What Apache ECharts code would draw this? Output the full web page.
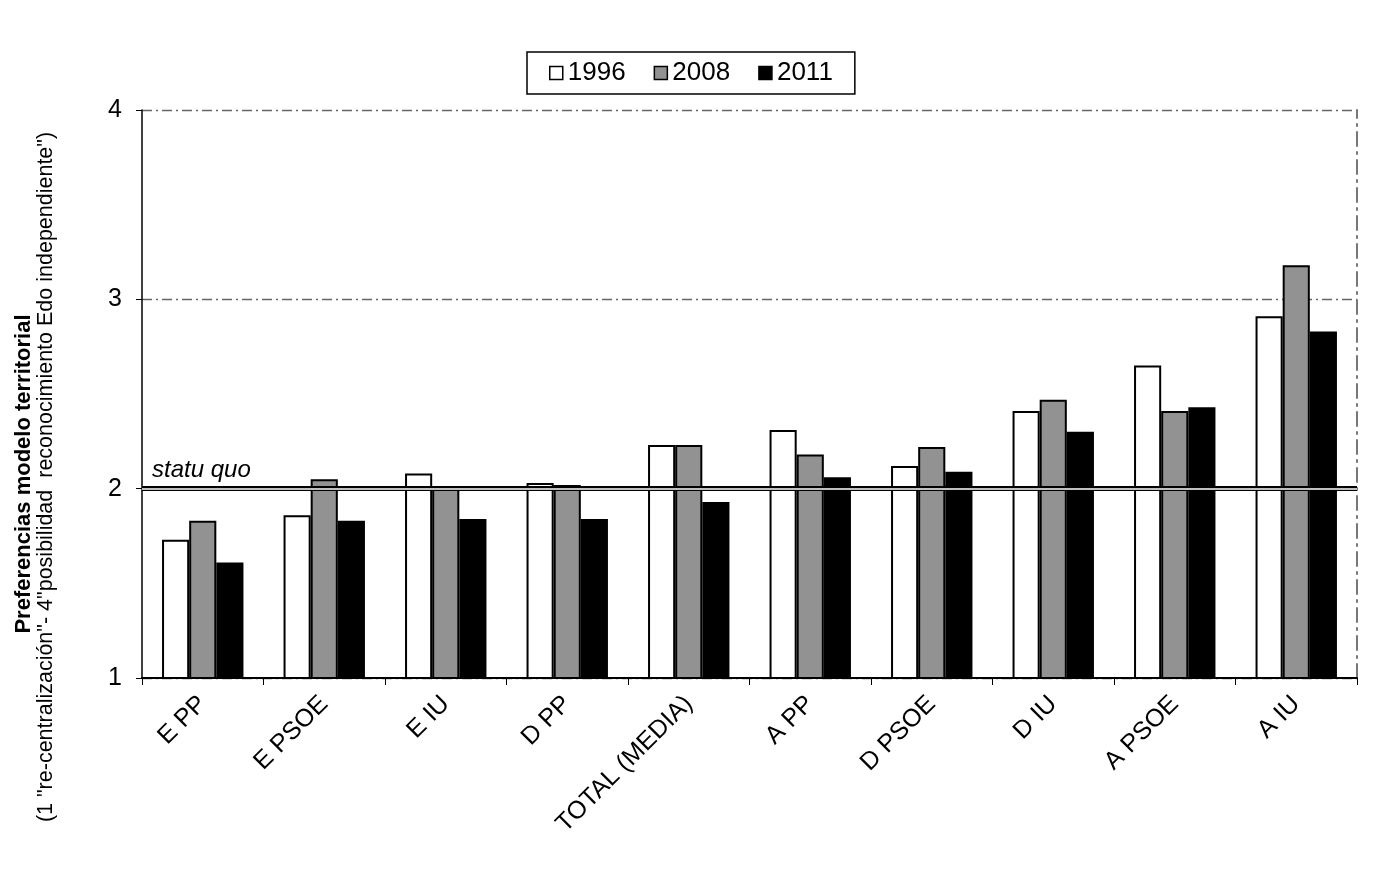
<!DOCTYPE html>
<html>
<head>
<meta charset="utf-8">
<title>Preferencias modelo territorial</title>
<script src="https://cdn.jsdelivr.net/npm/echarts@6/dist/echarts.min.js"></script>
<style>
    html,body{margin:0;padding:0;background:#fff;}
    #chart{width:1374px;height:880px;}
</style>
</head>
<body>
<div id="chart"></div>
<script>
    // categorias (electorado por ideologia/partido)
    var categories = ['E PP','E PSOE','E IU','D PP','TOTAL (MEDIA)','A PP','D PSOE','D IU','A PSOE','A IU'];
    var years = ['1996','2008','2011'];

    var values1996 = [1.73,1.86,2.08,2.03,2.23,2.31,2.12,2.41,2.65,2.91];
    var values2008 = [1.83,2.05,2.00,2.02,2.23,2.18,2.22,2.47,2.41,3.18];
    var values2011 = [1.61,1.83,1.84,1.84,1.93,2.06,2.09,2.30,2.43,2.83];

    var yTicks = [1,2,3,4];
    var statuQuo = 2;

    var font = 'Arial, "Liberation Sans", sans-serif';
    var dashDot = [10,4,2,4];

    function barSeries(name,data,color,border){
        return {
            name:name,
            type:'bar',
            data:data,
            barGap:'0%',
            barCategoryGap:'33%',
            itemStyle:{
                color:color,
                borderColor:'#000',
                borderWidth:border
            }
        };
    }

    var series = [
        barSeries(years[0],values1996,'#ffffff',2),
        barSeries(years[1],values2008,'#929292',2),
        barSeries(years[2],values2011,'#000000',0)
    ];

    // linea doble del statu quo
    series[2].markLine = {
        silent:true,
        symbol:'none',
        animation:false,
        data:[
            {
                yAxis:statuQuo,
                lineStyle:{color:'#000',width:5,type:'solid'},
                label:{
                    show:true,
                    position:'insideStartTop',
                    formatter:'statu quo',
                    fontFamily:font,
                    fontSize:24,
                    fontStyle:'italic',
                    color:'#000',
                    distance:[10,6]
                }
            },
            {
                yAxis:statuQuo,
                lineStyle:{color:'#fff',width:1.5,type:'solid'},
                label:{show:false}
            }
        ]
    };

    var option = {
        backgroundColor:'#fff',
        animation:false,
        textStyle:{fontFamily:font},
        legend:{
            data:years,
            left:527,
            top:52,
            orient:'horizontal',
            borderColor:'#000',
            borderWidth:1.5,
            padding:[8,22,8,22],
            itemGap:28,
            itemWidth:13,
            itemHeight:13,
            icon:'rect',
            itemStyle:{borderColor:'#000',borderWidth:1.5},
            textStyle:{fontFamily:font,fontSize:26,color:'#000'}
        },
        grid:{
            left:142,
            right:17,
            top:110,
            bottom:202,
            containLabel:false
        },
        xAxis:{
            type:'category',
            data:categories,
            axisLine:{lineStyle:{color:'#000',width:2}},
            axisTick:{show:true,length:7,lineStyle:{color:'#000',width:1}},
            axisLabel:{
                rotate:45,
                interval:0,
                margin:22,
                fontFamily:font,
                fontSize:25,
                color:'#000'
            },
            splitLine:{show:false}
        },
        yAxis:[
            {
                type:'value',
                min:yTicks[0],
                max:yTicks[yTicks.length-1],
                interval:1,
                axisLine:{show:true,lineStyle:{color:'#000',width:1.5}},
                axisTick:{show:true,length:6,lineStyle:{color:'#000'}},
                axisLabel:{
                    margin:20,
                    fontFamily:font,
                    fontSize:25,
                    color:'#000'
                },
                splitLine:{
                    show:true,
                    lineStyle:{color:'#666',width:1.3,type:dashDot}
                }
            },
            {
                // borde derecho punteado
                type:'value',
                min:yTicks[0],
                max:yTicks[yTicks.length-1],
                interval:1,
                position:'right',
                axisLine:{show:true,lineStyle:{color:'#777',width:2,type:[14,6,2,6]}},
                axisTick:{show:false},
                axisLabel:{show:false},
                splitLine:{show:false}
            }
        ],
        graphic:[
            {
                type:'text',
                x:24,
                y:474,
                rotation:Math.PI/2,
                style:{
                    text:'Preferencias modelo territorial',
                    font:'bold 22px ' + font,
                    fill:'#000',
                    align:'center',
                    verticalAlign:'middle'
                }
            },
            {
                type:'text',
                x:46,
                y:477,
                rotation:Math.PI/2,
                style:{
                    text:'(1 "re-centralización"- 4"posibilidad  reconocimiento Edo independiente")',
                    font:'21.5px ' + font,
                    fill:'#000',
                    align:'center',
                    verticalAlign:'middle'
                }
            }
        ],
        series:series
    };

    var chart = echarts.init(document.getElementById('chart'));
    chart.setOption(option);
    window.onresize = function(){
        chart.resize();
    };
</script>
</body>
</html>
